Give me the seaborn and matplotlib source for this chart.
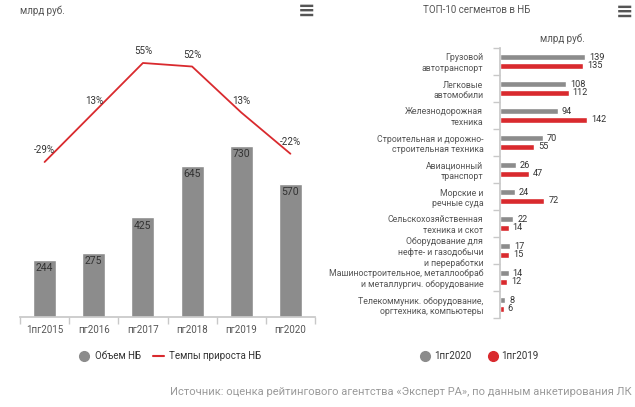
import numpy as np
import pandas as pd
import matplotlib
matplotlib.use("Agg")
import matplotlib.pyplot as plt
import seaborn as sns
from matplotlib.lines import Line2D

# left chart data
periods = ["1пг2015", "пг2016", "пг2017", "пг2018", "пг2019", "пг2020"]
volume = [244, 275, 425, 645, 730, 570]
growth = [-29, 13, 55, 52, 13, -22]

# right chart data
segments = [
    "Грузовой\nавтотранспорт",
    "Легковые\nавтомобили",
    "Железнодорожная\nтехника",
    "Строительная и дорожно-\nстроительная техника",
    "Авиационный\nтранспорт",
    "Морские и\nречные суда",
    "Сельскохозяйственная\nтехника и скот",
    "Оборудование для\nнефте- и газодобычи\nи переработки",
    "Машиностроительное, металлообраб\nи металлургич. оборудование",
    "Телекоммуник. оборудование,\nоргтехника, компьютеры",
]
h1_2020 = [139, 108, 94, 70, 26, 24, 22, 17, 14, 8]
h1_2019 = [135, 112, 142, 55, 47, 72, 14, 15, 12, 6]

GRAY = "#8c8c8c"
RED = "#d92a2e"
TXT = "#333333"
AXC = "#c8c8c8"

sns.set_theme(style="white")
plt.rcParams['font.family'] = ['Roboto', 'DejaVu Sans']

W, H = 635, 407
fig = plt.figure(figsize=(W / 100, H / 100), dpi=100)

def box(x0, y0, x1, y1):
    return [x0 / W, 1 - y1 / H, (x1 - x0) / W, (y1 - y0) / H]

# ---------- left: volume bars + growth line ----------
ax = fig.add_axes(box(20, 40, 315, 317))
sns.barplot(x=periods, y=volume, color=GRAY, width=0.47, saturation=1, ax=ax)
ax.set_xlim(-0.5, 5.5)
ax.set_ylim(0, 1183)
for i, v in enumerate(volume):
    ax.text(i, v - 14, str(v), ha="center", va="top", fontsize=7.5, color=TXT)
ax.set_yticks([])
ax.set_xticks(np.arange(-0.5, 6, 1), minor=True)
ax.tick_params(axis="x", which="minor", length=5, color=AXC, direction="out", bottom=True)
ax.tick_params(axis="x", which="major", length=0, labelsize=7, labelcolor="#555555", pad=6)
for s in ["top", "right", "left"]:
    ax.spines[s].set_visible(False)
ax.spines["bottom"].set_color(AXC)
ax.set_xlabel("")
ax.set_ylabel("")

ax2 = ax.twinx()
df_line = pd.DataFrame({"pos": np.arange(len(periods)), "growth": growth})
sns.lineplot(data=df_line, x="pos", y="growth", color=RED, linewidth=1.3, ax=ax2)
ax2.set_ylim(-160.5, 74.5)
ax2.set_xlim(-0.5, 5.5)
for i, g in enumerate(growth):
    ax2.annotate(f"{g}%", (i, g), xytext=(0, 5), textcoords="offset points",
                 ha="center", va="bottom", fontsize=7, color=TXT)
ax2.axis("off")

fig.text(20 / W, 1 - 11 / H, "млрд руб.", fontsize=7, color="#555555", va="center")

leg_handles = [
    Line2D([], [], marker="o", linestyle="", markersize=7, markerfacecolor=GRAY, markeredgecolor=GRAY),
    Line2D([], [], color=RED, linewidth=1.5),
]
fig.legend(leg_handles, ["Объем НБ", "Темпы прироста НБ"], ncol=2, frameon=False,
           loc="center", bbox_to_anchor=(170 / W, 1 - 356 / H), fontsize=7,
           handlelength=1.2, columnspacing=1.2, handletextpad=0.5, labelcolor=TXT)

# ---------- right: top-10 segments ----------
df_seg = pd.DataFrame({
    "segment": segments * 2,
    "value": h1_2020 + h1_2019,
    "year": ["1пг2020"] * len(segments) + ["1пг2019"] * len(segments),
})
axr = fig.add_axes(box(500, 48, 620, 318))
sns.barplot(data=df_seg, y="segment", x="value", hue="year", orient="h",
            palette=[GRAY, RED], width=0.6, gap=0.25, saturation=1, ax=axr, legend=False)
axr.set_xlim(0, 196)
axr.set_ylim(9.5, -0.5)
for cont in axr.containers:
    axr.bar_label(cont, padding=3, fontsize=6.6, color=TXT)
axr.set_xticks([])
axr.set_yticks(np.arange(-0.5, 10, 1), minor=True)
axr.tick_params(axis="y", which="minor", length=5, color=AXC, direction="out", left=True)
axr.tick_params(axis="y", which="major", length=0, labelsize=6.3, labelcolor="#555555", pad=12)
for lab in axr.get_yticklabels():
    lab.set_horizontalalignment("right")
    lab.set_linespacing(1.25)
for s in ["top", "right", "bottom"]:
    axr.spines[s].set_visible(False)
axr.spines["left"].set_color(AXC)
axr.set_xlabel("")
axr.set_ylabel("")

fig.text(477 / W, 1 - 10 / H, "ТОП-10 сегментов в НБ", fontsize=7, color="#555555",
         ha="center", va="center")
fig.text(562 / W, 1 - 39 / H, "млрд руб.", fontsize=7, color="#555555", ha="center", va="center")

leg_handles_r = [
    Line2D([], [], marker="o", linestyle="", markersize=7, markerfacecolor=GRAY, markeredgecolor=GRAY),
    Line2D([], [], marker="o", linestyle="", markersize=7, markerfacecolor=RED, markeredgecolor=RED),
]
fig.legend(leg_handles_r, ["1пг2020", "1пг2019"], ncol=2, frameon=False,
           loc="center", bbox_to_anchor=(480 / W, 1 - 356 / H), fontsize=7,
           handlelength=0.8, columnspacing=1.8, handletextpad=0.5, labelcolor=TXT)

# menu icons
for xm, ym in [(307, 11), (625, 12)]:
    fig.text(xm / W, 1 - ym / H, "≡", fontsize=15, fontweight="bold", color="#555555",
             ha="center", va="center", family="DejaVu Sans")

fig.text(632 / W, 1 - 392 / H,
         "Источник: оценка рейтингового агентства «Эксперт РА», по данным анкетирования ЛК",
         fontsize=8, color="#9a9a9a", ha="right", va="center")

fig.savefig("out.png", dpi=100, facecolor="white")
